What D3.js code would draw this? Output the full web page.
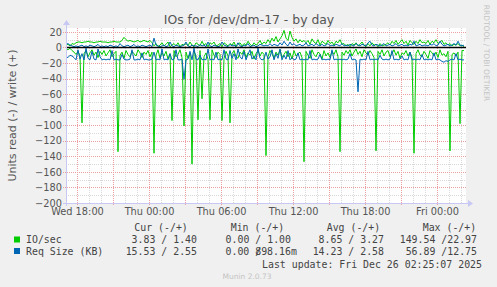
<!DOCTYPE html>
<html lang="en">
<head>
<meta charset="UTF-8"/>
<title>IOs for /dev/dm-17 - by day</title>
<script src="https://d3js.org/d3.v7.min.js"></script>
<style>
    html, body { margin: 0; padding: 0; background: #f0f0f0; }
    svg { display: block; }
    text { font-family: "DejaVu Sans", sans-serif; fill: #555; }
    .mono { font-family: "DejaVu Sans Mono", monospace; font-size: 9.9px; fill: #444; white-space: pre; }
    .minor { stroke: #d8d8d8; stroke-dasharray: 1,1; shape-rendering: crispedges; }
    .major { stroke: #eea0a0; stroke-dasharray: 1,1; shape-rendering: crispedges; }
    .axis path.domain, .axis line { display: none; }
    .axis text { font-size: 9.8px; fill: #555; }
</style>
</head>
<body>
<script>
const width = 497, height = 287;
const plotLeft = 66, plotRight = 466, plotTop = 28, plotBottom = 203;

// 400 px wide, 5 min per px, ends at last update
const startTime = new Date(2025, 11, 24, 17, 5);
const endTime = new Date(2025, 11, 26, 2, 25);
const stepMinutes = 10;

// values every 10 minutes from startTime; reads are drawn below zero
const ioRead = [
    2, 3, 1, 4, 6, 9, 5, 11, 97, 8, 4, 12, 7, 3, 10, 6, 13, 5, 9, 4,
    11, 7, 3, 12, 8, 5, 134, 10, 6, 14, 4, 9, 12, 5, 8, 11, 3, 7, 13, 6,
    9, 4, 12, 6, 136, 10, 3, 14, 7, 11, 5, 15, 8, 94, 4, 12, 9, 3, 13, 101,
    6, 14, 8, 150, 5, 11, 93, 4, 66, 12, 7, 15, 93, 3, 10, 13, 6, 9, 94, 14,
    5, 11, 97, 8, 4, 12, 14, 6, 9, 3, 13, 7, 10, 5, 15, 8, 4, 11, 6, 9,
    139, 12, 4, 8, 14, 6, 10, 3, 13, 9, 5, 12, 7, 15, 4, 11, 8, 6, 13, 147,
    5, 10, 14, 3, 9, 12, 6, 8, 15, 4, 11, 7, 13, 5, 9, 3, 12, 134, 6, 10,
    4, 8, 3, 11, 6, 2, 9, 5, 12, 3, 7, 10, 4, 8, 13, 133, 5, 9, 3, 11,
    6, 4, 12, 8, 3, 10, 5, 14, 7, 9, 4, 11, 6, 13, 136, 8, 3, 10, 12, 5,
    9, 14, 4, 7, 11, 6, 13, 3, 10, 8, 12, 5, 133, 9, 7, 11, 6, 98, 4, 4
];
const ioWrite = [
    3, 4, 2, 5, 4, 6, 7, 7, 6, 7, 7, 8, 7, 7, 6, 7, 7, 8, 7, 7,
    7, 6, 7, 7, 8, 7, 7, 7, 9, 13, 10, 8, 9, 8, 7, 8, 9, 7, 8, 9,
    8, 7, 9, 6, 2, 5, 1, 3, 6, 2, 4, 7, 1, 3, 5, 2, 6, 1, 4, 3,
    5, 2, 7, 3, 1, 6, 4, 2, 8, 3, 5, 1, 6, 4, 7, 2, 3, 5, 1, 6,
    4, 2, 5, 3, 7, 1, 4, 6, 2, 5, 3, 8, 4, 2, 6, 3, 5, 9, 4, 7,
    5, 10, 6, 12, 8, 14, 7, 11, 15, 22, 12, 9, 21, 13, 8, 11, 6, 10, 7, 9,
    6, 9, 4, 11, 7, 5, 10, 3, 8, 6, 4, 9, 5, 7, 3, 8, 6, 10, 4, 5,
    2, 4, 1, 5, 3, 6, 2, 4, 7, 3, 1, 5, 2, 6, 3, 4, 1, 5, 2, 3,
    4, 6, 3, 8, 5, 9, 4, 7, 10, 5, 8, 3, 9, 6, 4, 8, 5, 10, 6, 7,
    5, 9, 4, 8, 6, 10, 5, 7, 9, 4, 6, 3, 5, 2, 4, 3, 5, 2, 3, 1
];
const reqRead = [
    12, 13, 10, 11, 13, 16, 3, 15, 8, 16, 1, 14, 16, 5, 15, 16, 2, 12, 16, 15,
    16, 15, 16, 4, 16, 15, 16, 16, 9, 15, 16, 16, 15, 3, 16, 16, 15, 16, 7, 16,
    15, 16, 16, 15, 6, 16, 15, 16, 2, 16, 15, 16, 8, 16, 15, 3, 16, 16, 15, 41,
    16, 15, 5, 16, 1, 15, 16, 10, 16, 15, 16, 2, 16, 15, 16, 6, 16, 15, 16, 3,
    15, 16, 4, 14, 8, 16, 2, 12, 15, 5, 16, 9, 3, 15, 11, 16, 1, 14, 16, 15,
    6, 15, 12, 3, 16, 8, 14, 2, 16, 10, 15, 4, 16, 13, 16, 15, 7, 16, 15, 16,
    15, 16, 4, 16, 15, 16, 15, 9, 16, 15, 16, 15, 16, 3, 16, 15, 16, 15, 16, 15,
    16, 15, 8, 16, 15, 16, 57, 15, 16, 15, 16, 5, 16, 15, 16, 15, 16, 10, 15, 16,
    15, 16, 15, 4, 16, 15, 16, 15, 11, 16, 15, 16, 6, 16, 15, 16, 15, 16, 9, 16,
    15, 16, 15, 16, 7, 16, 15, 16, 18, 19, 17, 18, 16, 15, 16, 8, 16, 15, 16, 16
];
const reqWrite = [
    4, 5, 3, 2, 1, 2, 1, 2, 3, 1, 2, 1, 3, 2, 1, 2, 4, 1, 2, 1,
    2, 1, 3, 2, 1, 2, 1, 5, 2, 1, 2, 3, 1, 2, 4, 1, 2, 1, 3, 2,
    1, 2, 3, 1, 12, 3, 2, 1, 2, 3, 1, 2, 7, 2, 1, 3, 2, 1, 2, 3,
    7, 2, 1, 3, 2, 2, 1, 4, 2, 3, 1, 7, 2, 1, 3, 2, 1, 2, 7, 3,
    2, 1, 4, 2, 3, 1, 6, 2, 1, 3, 2, 5, 1, 2, 3, 1, 2, 4, 3, 2,
    3, 2, 5, 2, 4, 3, 2, 6, 3, 8, 4, 2, 7, 3, 5, 2, 3, 4, 2, 3,
    6, 2, 3, 4, 2, 5, 3, 2, 4, 2, 3, 5, 2, 3, 2, 4, 3, 2, 5, 2,
    3, 2, 4, 3, 2, 5, 3, 2, 4, 3, 2, 6, 8, 3, 2, 4, 3, 2, 3, 5,
    2, 3, 4, 2, 3, 5, 2, 3, 4, 2, 3, 2, 4, 3, 8, 2, 3, 4, 2, 3,
    3, 2, 4, 3, 5, 2, 3, 8, 4, 2, 3, 4, 2, 3, 5, 3, 8, 3, 2, 3
];

const yTickValues = [20, 0, -20, -40, -60, -80, -100, -120, -140, -160, -180, -200];
const legendHeaders = ["Cur (-/+)", "Min (-/+)", "Avg (-/+)", "Max (-/+)"];
const legendNames = ["IO/sec", "Req Size (KB)"];
const legendColors = ["#00cc00", "#0066b3"];
const ioStats = ["3.83 / 1.40", "0.00 / 1.00", "8.65 / 3.27", "149.54 /22.97"];
const reqStats = ["15.53 / 2.55", "0.00 /", "14.23 / 2.58", "56.89 /12.75"];
const reqMinWrite = "898.16m";

let svg = d3.select("body").append("svg")
    .attr("width", width)
    .attr("height", height);

svg.append("rect").attr("width", width).attr("height", height).attr("fill", "#f0f0f0");

let x = d3.scaleTime().domain([startTime, endTime]).range([plotLeft, plotRight]);
let y = d3.scaleLinear().domain([-200, 25]).range([plotBottom, plotTop]);

svg.append("rect")
    .attr("x", plotLeft).attr("y", plotTop)
    .attr("width", plotRight - plotLeft).attr("height", plotBottom - plotTop)
    .attr("fill", "#fff");

// grid
let grid = svg.append("g");
grid.selectAll(".vmin")
    .data(x.ticks(d3.timeHour.every(1)))
    .enter().append("line")
    .attr("class", "minor")
    .attr("x1", d => Math.round(x(d)) + 0.5).attr("x2", d => Math.round(x(d)) + 0.5)
    .attr("y1", plotTop).attr("y2", plotBottom);
grid.selectAll(".hmin")
    .data(d3.range(-190, 25, 20))
    .enter().append("line")
    .attr("class", "minor")
    .attr("x1", plotLeft).attr("x2", plotRight)
    .attr("y1", d => Math.round(y(d)) + 0.5).attr("y2", d => Math.round(y(d)) + 0.5);
grid.selectAll(".vmaj")
    .data(x.ticks(d3.timeHour.every(3)))
    .enter().append("line")
    .attr("class", "major")
    .attr("x1", d => Math.round(x(d)) + 0.5).attr("x2", d => Math.round(x(d)) + 0.5)
    .attr("y1", plotTop).attr("y2", plotBottom + 3);
grid.selectAll(".hmaj")
    .data(yTickValues)
    .enter().append("line")
    .attr("class", "major")
    .attr("x1", plotLeft - 3).attr("x2", plotRight)
    .attr("y1", d => Math.round(y(d)) + 0.5).attr("y2", d => Math.round(y(d)) + 0.5);

// axes labels
svg.append("g")
    .attr("class", "axis")
    .attr("transform", "translate(" + plotLeft + ",0)")
    .call(d3.axisLeft(y).tickValues(yTickValues).tickSize(0).tickPadding(4));

svg.append("g")
    .attr("class", "axis")
    .attr("transform", "translate(0," + plotBottom + ")")
    .call(d3.axisBottom(x).ticks(d3.timeHour.every(6))
        .tickFormat(d3.timeFormat("%a %H:%M")).tickSize(0).tickPadding(5));

// series
let timeAt = i => new Date(startTime.getTime() + i * stepMinutes * 60000);
let series = [
    {values: ioRead, sign: -1, color: "#00cc00"},
    {values: ioWrite, sign: 1, color: "#00cc00"},
    {values: reqRead, sign: -1, color: "#0066b3"},
    {values: reqWrite, sign: 1, color: "#0066b3"}
];
series.forEach(s => {
    let line = d3.line()
        .x((d, i) => x(timeAt(i)))
        .y(d => y(s.sign * d));
    svg.append("path")
        .attr("d", line(s.values))
        .attr("fill", "none")
        .attr("stroke", s.color)
        .attr("stroke-width", 1);
});

// zero line
svg.append("line")
    .attr("x1", plotLeft).attr("x2", plotRight)
    .attr("y1", y(0)).attr("y2", y(0))
    .attr("stroke", "#000").attr("stroke-width", 1.4);

// axis lines with arrows
let axisColor = "#c8c8f4";
svg.append("line").attr("x1", plotLeft - 3).attr("x2", plotRight + 3)
    .attr("y1", plotBottom + 0.5).attr("y2", plotBottom + 0.5).attr("stroke", axisColor);
svg.append("line").attr("x1", plotLeft + 0.5).attr("x2", plotLeft + 0.5)
    .attr("y1", plotBottom + 3).attr("y2", plotTop - 3).attr("stroke", axisColor);
svg.append("path").attr("d", `M${plotRight + 2},${plotBottom - 3}L${plotRight + 7},${plotBottom + 0.5}L${plotRight + 2},${plotBottom + 4}Z`)
    .attr("fill", axisColor);
svg.append("path").attr("d", `M${plotLeft - 3},${plotTop - 3}L${plotLeft + 0.5},${plotTop - 8}L${plotLeft + 4},${plotTop - 3}Z`)
    .attr("fill", axisColor);

// titles
svg.append("text")
    .attr("x", 249).attr("y", 23.5)
    .attr("text-anchor", "middle")
    .style("font-size", "12.4px")
    .text("IOs for /dev/dm-17 - by day");

svg.append("text")
    .attr("transform", "translate(16," + ((plotTop + plotBottom) / 2) + ") rotate(-90)")
    .attr("text-anchor", "middle")
    .style("font-size", "11px")
    .text("Units read (-) / write (+)");

svg.append("text")
    .attr("transform", "translate(483.5,53) rotate(90)")
    .attr("text-anchor", "middle")
    .style("font-size", "7.5px")
    .style("fill", "#c4c4c4")
    .text("RRDTOOL / TOBI OETIKER");

// legend
let headerX = [134.3, 230.7, 326.7, 422.7];
let valueEnd = [197, 291, 384, 477];
svg.selectAll(".lh")
    .data(legendHeaders)
    .enter().append("text")
    .attr("class", "mono")
    .attr("x", (d, i) => headerX[i]).attr("y", 231)
    .text(d => d);

let rowY = [243, 254.5];
legendNames.forEach((name, r) => {
    svg.append("rect")
        .attr("x", 14).attr("y", rowY[r] - 6.5)
        .attr("width", 6).attr("height", 6)
        .attr("fill", legendColors[r]);
    svg.append("text").attr("class", "mono")
        .attr("x", 26).attr("y", rowY[r]).text(name);
    let stats = r === 0 ? ioStats : reqStats;
    stats.forEach((v, c) => {
        let endX = (r === 1 && c === 1) ? valueEnd[c] - 5 * 5.96 : valueEnd[c];
        svg.append("text").attr("class", "mono")
            .attr("x", endX).attr("y", rowY[r])
            .attr("text-anchor", "end").text(v);
    });
});
svg.append("text").attr("class", "mono")
    .attr("x", valueEnd[1] - 6 * 5.96).attr("y", rowY[1])
    .text(reqMinWrite);

svg.append("text").attr("class", "mono")
    .attr("x", 482).attr("y", 268)
    .attr("text-anchor", "end")
    .text("Last update: Fri Dec 26 02:25:07 2025");

svg.append("text")
    .attr("x", 247).attr("y", 279)
    .attr("text-anchor", "middle")
    .style("font-size", "7.5px")
    .style("fill", "#c4c4c4")
    .text("Munin 2.0.73");
</script>
</body>
</html>
